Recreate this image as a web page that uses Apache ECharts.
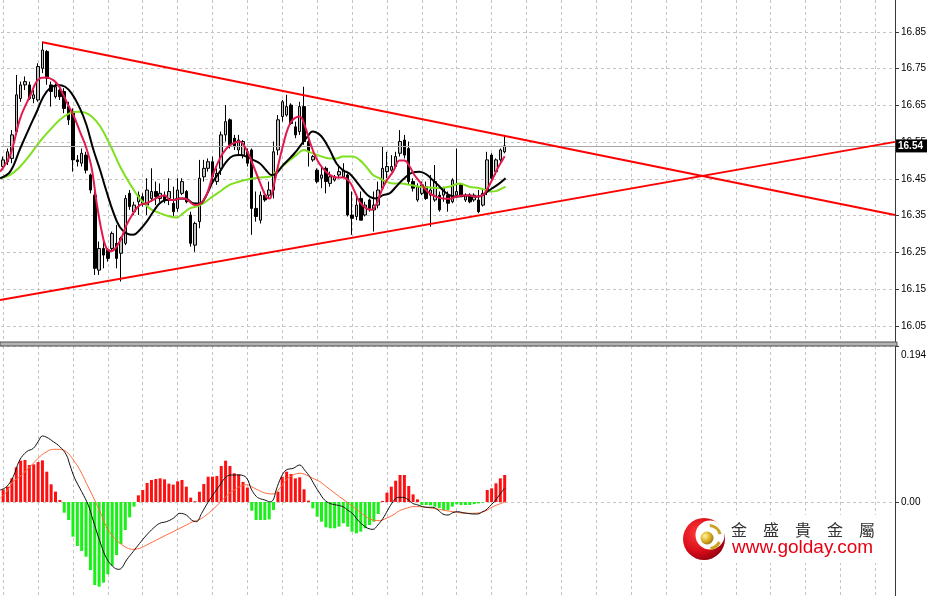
<!DOCTYPE html>
<html>
<head>
<meta charset="utf-8">
<script src="https://cdn.jsdelivr.net/npm/echarts@6/dist/echarts.min.js"></script>
<style>html,body{margin:0;padding:0;background:#fff}#c{width:929px;height:596px}</style>
</head>
<body>
<div id="c"></div>
<script>
// ---- data ----
const SLOT_COUNT = 205;               // bar slots across the chart (incl. empty right side)
const priceTicks = [16.05, 16.15, 16.25, 16.35, 16.45, 16.55, 16.65, 16.75, 16.85];
const macdTicks = [0, 0.194];
const macdTickLabels = ['0.00', '0.194'];
const timeGridBars = [0, 8, 16, 24, 32, 40, 48, 56, 64, 72, 80, 88, 96, 104, 112, 120, 128, 136, 144, 152, 160, 168, 176, 184, 192, 200];
const lastPrice = 16.54;

// candles: [open, close, low, high]
const candles = [
[16.484,16.502,16.474,16.511],[16.497,16.524,16.488,16.533],[16.506,16.570,16.493,16.583],[16.579,16.679,16.570,16.733],
[16.669,16.706,16.660,16.715],[16.706,16.715,16.692,16.729],[16.706,16.669,16.665,16.715],[16.669,16.679,16.656,16.692],
[16.665,16.756,16.660,16.765],[16.751,16.801,16.738,16.824],[16.797,16.724,16.706,16.801],[16.706,16.688,16.647,16.715],
[16.674,16.701,16.669,16.710],[16.692,16.674,16.665,16.697],[16.688,16.642,16.629,16.697],[16.647,16.611,16.597,16.660],
[16.633,16.502,16.470,16.642],[16.502,16.497,16.484,16.515],[16.493,16.520,16.484,16.533],[16.515,16.474,16.465,16.524],
[16.461,16.420,16.411,16.465],[16.406,16.207,16.189,16.416],[16.202,16.261,16.189,16.280],[16.261,16.243,16.207,16.280],
[16.257,16.234,16.225,16.261],[16.261,16.302,16.252,16.307],[16.275,16.234,16.207,16.325],[16.248,16.289,16.171,16.293],
[16.275,16.397,16.270,16.406],[16.411,16.375,16.366,16.420],[16.361,16.379,16.352,16.388],[16.388,16.406,16.352,16.416],
[16.402,16.384,16.375,16.411],[16.379,16.420,16.352,16.452],[16.397,16.416,16.388,16.479],[16.416,16.402,16.379,16.443],
[16.397,16.411,16.388,16.438],[16.406,16.393,16.384,16.416],[16.397,16.416,16.379,16.452],[16.384,16.361,16.348,16.429],
[16.370,16.420,16.361,16.452],[16.411,16.443,16.406,16.452],[16.416,16.388,16.384,16.420],[16.352,16.275,16.266,16.361],
[16.270,16.329,16.252,16.334],[16.334,16.452,16.316,16.502],[16.456,16.479,16.443,16.502],[16.479,16.497,16.470,16.506],
[16.497,16.456,16.443,16.511],[16.443,16.465,16.434,16.479],[16.479,16.570,16.461,16.579],[16.570,16.606,16.552,16.651],
[16.611,16.543,16.533,16.615],[16.561,16.538,16.529,16.570],[16.529,16.556,16.515,16.570],[16.515,16.552,16.506,16.556],
[16.524,16.493,16.484,16.533],[16.529,16.370,16.298,16.533],[16.370,16.348,16.334,16.416],[16.338,16.406,16.329,16.416],
[16.406,16.393,16.388,16.416],[16.406,16.420,16.397,16.443],[16.420,16.524,16.397,16.552],[16.529,16.611,16.515,16.624],
[16.620,16.660,16.606,16.665],[16.624,16.647,16.620,16.679],[16.651,16.601,16.597,16.656],[16.592,16.570,16.561,16.606],
[16.579,16.647,16.570,16.660],[16.647,16.552,16.543,16.701],[16.552,16.524,16.484,16.570],[16.502,16.511,16.497,16.515],
[16.474,16.443,16.438,16.479],[16.452,16.461,16.425,16.484],[16.479,16.443,16.411,16.484],[16.438,16.456,16.429,16.470],
[16.447,16.456,16.443,16.461],[16.461,16.470,16.452,16.484],[16.456,16.474,16.456,16.493],[16.461,16.352,16.348,16.465],
[16.352,16.343,16.298,16.416],[16.348,16.379,16.338,16.406],[16.397,16.338,16.338,16.416],[16.352,16.379,16.348,16.388],
[16.393,16.370,16.361,16.397],[16.366,16.379,16.307,16.416],[16.379,16.420,16.370,16.443],[16.425,16.479,16.420,16.538],
[16.470,16.484,16.452,16.524],[16.474,16.484,16.470,16.515],[16.484,16.511,16.479,16.524],[16.520,16.552,16.511,16.583],
[16.556,16.515,16.506,16.570],[16.533,16.443,16.434,16.552],[16.443,16.425,16.416,16.452],[16.393,16.429,16.388,16.438],
[16.411,16.434,16.406,16.443],[16.429,16.397,16.393,16.443],[16.406,16.420,16.320,16.461],[16.393,16.443,16.388,16.488],
[16.406,16.366,16.361,16.416],[16.406,16.425,16.388,16.429],[16.406,16.384,16.361,16.416],[16.388,16.447,16.384,16.452],
[16.406,16.416,16.402,16.533],[16.434,16.406,16.406,16.438],[16.393,16.406,16.388,16.411],[16.406,16.388,16.384,16.411],
[16.393,16.406,16.388,16.411],[16.393,16.361,16.357,16.420],[16.379,16.411,16.375,16.425],[16.416,16.502,16.406,16.524],
[16.515,16.452,16.443,16.520],[16.470,16.502,16.461,16.506],[16.502,16.529,16.497,16.533],[16.524,16.540,16.520,16.570]
];

// moving averages: [bar index, price]
const maFast = [[-0.7,16.470],[1.6,16.515],[3.9,16.615],[6.1,16.674],[8.4,16.724],[9.9,16.726],[11.5,16.719],[12.6,16.706],[13.8,16.679],[14.9,16.651],[16.1,16.624],[17.6,16.579],[19.1,16.533],[20.3,16.479],[21.4,16.388],[22.6,16.307],[23.7,16.261],[24.8,16.254],[26.0,16.266],[27.1,16.289],[28.3,16.325],[29.8,16.357],[31.3,16.379],[32.9,16.384],[34.4,16.393],[35.9,16.402],[37.1,16.405],[38.2,16.393],[39.3,16.393],[40.5,16.397],[41.6,16.397],[42.8,16.388],[43.9,16.379],[45.1,16.382],[46.6,16.406],[48.1,16.461],[49.7,16.506],[51.2,16.533],[52.7,16.547],[54.2,16.552],[55.8,16.529],[57.3,16.488],[58.8,16.443],[60.3,16.402],[61.1,16.397],[61.9,16.425],[63.0,16.484],[64.2,16.543],[65.3,16.588],[66.4,16.611],[68.0,16.620],[69.1,16.597],[70.3,16.552],[71.8,16.506],[73.3,16.479],[74.9,16.461],[76.4,16.454],[77.9,16.454],[79.4,16.443],[80.6,16.416],[81.7,16.388],[83.3,16.370],[84.4,16.366],[85.5,16.379],[86.7,16.416],[87.8,16.443],[89.4,16.470],[90.9,16.500],[92.0,16.500],[93.2,16.484],[94.3,16.461],[95.5,16.443],[96.6,16.425],[97.8,16.411],[99.3,16.402],[100.8,16.397],[102.3,16.396],[103.9,16.402],[105.4,16.405],[106.9,16.405],[108.4,16.402],[110.0,16.406],[111.1,16.425],[112.3,16.452],[113.4,16.479],[114.5,16.502],[115.0,16.512]];
const maMid = [[-0.7,16.452],[1.6,16.470],[3.9,16.533],[6.1,16.592],[7.7,16.633],[9.2,16.674],[10.7,16.697],[12.6,16.706],[14.2,16.701],[15.7,16.683],[17.6,16.642],[19.1,16.597],[20.6,16.533],[22.2,16.475],[23.7,16.416],[25.2,16.361],[26.7,16.320],[28.3,16.302],[29.8,16.298],[31.3,16.311],[32.9,16.334],[34.4,16.361],[35.9,16.384],[37.4,16.393],[39.0,16.393],[40.5,16.397],[42.0,16.396],[43.5,16.384],[45.1,16.383],[46.6,16.406],[48.1,16.443],[49.7,16.470],[51.2,16.497],[52.7,16.513],[54.2,16.515],[55.8,16.511],[57.3,16.502],[58.8,16.493],[60.3,16.474],[61.5,16.461],[62.6,16.465],[64.2,16.488],[65.7,16.506],[66.8,16.520],[68.0,16.538],[69.5,16.561],[71.0,16.579],[72.2,16.574],[73.3,16.561],[74.9,16.529],[76.4,16.493],[77.9,16.474],[79.4,16.465],[81.0,16.443],[82.5,16.420],[84.0,16.402],[85.5,16.397],[87.1,16.406],[88.6,16.411],[90.1,16.429],[91.8,16.450],[93.9,16.468],[95.5,16.470],[97.0,16.463],[98.5,16.447],[99.7,16.434],[100.8,16.420],[102.3,16.406],[103.9,16.402],[105.4,16.404],[106.9,16.405],[108.4,16.402],[110.0,16.406],[111.1,16.416],[112.3,16.426],[113.8,16.438],[115.2,16.452]];
const maSlow = [[-0.7,16.452],[1.6,16.461],[3.9,16.484],[6.1,16.515],[8.4,16.552],[10.7,16.583],[13.0,16.611],[15.3,16.629],[17.2,16.633],[18.7,16.631],[20.3,16.620],[22.2,16.594],[24.5,16.543],[26.8,16.484],[29.0,16.438],[31.3,16.397],[33.6,16.370],[35.9,16.357],[38.2,16.348],[39.7,16.345],[41.3,16.357],[42.8,16.370],[44.3,16.375],[46.0,16.384],[47.4,16.397],[49.7,16.416],[51.9,16.434],[54.2,16.443],[56.5,16.450],[58.8,16.454],[61.1,16.456],[62.6,16.470],[64.9,16.493],[67.2,16.515],[68.9,16.529],[70.3,16.523],[72.6,16.513],[74.9,16.506],[76.4,16.506],[77.9,16.511],[80.2,16.511],[81.7,16.502],[83.2,16.484],[84.8,16.461],[86.3,16.452],[87.8,16.443],[89.4,16.438],[91.4,16.438],[93.2,16.434],[95.5,16.429],[97.8,16.427],[100.0,16.425],[102.3,16.429],[104.6,16.438],[106.9,16.429],[109.2,16.425],[110.7,16.420],[111.9,16.416],[113.0,16.417],[114.2,16.423],[115.2,16.429]];

// trend lines: [bar index, price] end points
const trendUpper = [[9, 16.822], [204.5, 16.352]];
const trendLower = [[-0.73, 16.121], [204.5, 16.551]];

// MACD histogram (one value per bar)
const macdHist = [
0.0157,0.0191,0.0295,0.0431,0.0514,0.0522,0.0460,0.0468,0.0497,0.0518,0.0377,0.0220,0.0129,0.0025,
-0.0133,-0.0224,-0.0431,-0.0547,-0.0609,-0.0680,-0.0846,-0.1032,-0.1053,-0.1003,-0.0899,-0.0792,-0.0659,-0.0522,-0.0348,-0.0191,-0.0058,
0.0083,0.0149,0.0236,0.0274,0.0286,0.0294,0.0282,0.0228,0.0216,0.0257,0.0274,0.0191,0.0054,0.0010,
0.0128,0.0224,0.0315,0.0315,0.0323,0.0448,0.0514,0.0448,0.0357,0.0344,0.0250,0.0180,
-0.0108,-0.0224,-0.0224,-0.0224,-0.0216,-0.0100,
0.0128,0.0315,0.0377,0.0348,0.0294,0.0307,0.0158,0.0017,
-0.0079,-0.0182,-0.0245,-0.0315,-0.0327,-0.0327,-0.0307,-0.0265,-0.0307,-0.0369,-0.0390,-0.0369,-0.0327,-0.0286,-0.0245,-0.0149,
0.0013,0.0116,0.0191,0.0265,0.0336,0.0336,0.0199,0.0095,0.0033,
-0.0037,-0.0037,-0.0041,-0.0058,-0.0075,-0.0100,-0.0100,-0.0058,-0.0029,-0.0037,-0.0037,-0.0037,-0.0025,-0.0017,-0.0008,
0.0149,0.0170,0.0232,0.0294,0.0336
];
const macdMain = [[-0.7,0.0149],[0.8,0.0191],[2.3,0.0315],[3.8,0.0522],[5.4,0.0626],[6.9,0.0667],[8.0,0.0750],[9.0,0.0821],[10.0,0.0804],[11.5,0.0750],[13.0,0.0688],[14.5,0.0585],[15.3,0.0460],[16.4,0.0295],[18.0,0.0129],[19.5,-0.0037],[20.6,-0.0224],[22.2,-0.0493],[23.7,-0.0700],[25.2,-0.0804],[26.4,-0.0837],[27.1,-0.0825],[28.3,-0.0721],[29.8,-0.0617],[31.3,-0.0514],[32.9,-0.0410],[34.4,-0.0327],[35.9,-0.0265],[37.4,-0.0245],[39.0,-0.0203],[40.5,-0.0141],[42.0,-0.0162],[43.2,-0.0224],[44.3,-0.0245],[45.5,-0.0141],[46.6,-0.0037],[48.1,0.0087],[49.7,0.0211],[51.2,0.0315],[52.7,0.0336],[54.2,0.0336],[55.8,0.0300],[56.9,0.0160],[58.1,0.0066],[59.0,0.0040],[60.0,0.0025],[61.1,0.0004],[61.9,0.0025],[62.6,0.0149],[63.8,0.0315],[64.9,0.0398],[66.5,0.0419],[68.0,0.0460],[69.1,0.0398],[70.3,0.0315],[71.4,0.0211],[72.6,0.0108],[73.7,0.0025],[74.9,-0.0017],[76.4,-0.0037],[77.9,-0.0058],[79.0,-0.0100],[80.2,-0.0149],[81.3,-0.0224],[82.5,-0.0286],[83.6,-0.0327],[84.8,-0.0340],[85.9,-0.0286],[87.1,-0.0203],[88.2,-0.0100],[89.4,0.0004],[90.5,0.0058],[91.6,0.0058],[92.8,0.0033],[93.9,-0.0017],[95.1,-0.0037],[96.2,-0.0058],[97.4,-0.0066],[98.5,-0.0066],[99.7,-0.0100],[100.8,-0.0149],[102.0,-0.0162],[103.1,-0.0133],[104.2,-0.0120],[105.4,-0.0133],[106.5,-0.0141],[107.7,-0.0149],[108.8,-0.0149],[110.0,-0.0120],[110.7,-0.0100],[111.5,-0.0058],[112.6,0.0004],[113.8,0.0087],[114.9,0.0170]];
const macdSignal = [[-0.7,0.0045],[0.8,0.0129],[2.3,0.0253],[3.8,0.0315],[5.4,0.0398],[6.9,0.0481],[8.4,0.0564],[10.0,0.0626],[11.5,0.0655],[13.0,0.0655],[14.5,0.0626],[16.1,0.0522],[17.6,0.0398],[19.1,0.0232],[20.6,0.0066],[22.2,-0.0120],[23.7,-0.0307],[25.2,-0.0431],[26.8,-0.0514],[28.3,-0.0568],[29.8,-0.0589],[31.3,-0.0576],[32.9,-0.0535],[34.4,-0.0493],[35.9,-0.0452],[37.4,-0.0410],[39.0,-0.0369],[40.5,-0.0327],[42.0,-0.0286],[43.5,-0.0245],[45.1,-0.0215],[46.6,-0.0162],[48.1,-0.0091],[49.7,-0.0008],[51.2,0.0075],[52.7,0.0141],[54.2,0.0191],[55.8,0.0215],[57.3,0.0180],[58.8,0.0140],[60.3,0.0108],[61.9,0.0100],[63.4,0.0170],[64.9,0.0274],[66.5,0.0336],[68.0,0.0357],[69.5,0.0336],[71.0,0.0294],[72.6,0.0253],[74.1,0.0191],[75.6,0.0128],[77.1,0.0066],[78.7,0.0004],[80.2,-0.0058],[81.7,-0.0120],[83.2,-0.0182],[84.8,-0.0224],[86.3,-0.0232],[87.8,-0.0203],[89.4,-0.0162],[90.9,-0.0108],[92.4,-0.0079],[93.9,-0.0058],[95.5,-0.0058],[97.0,-0.0066],[98.5,-0.0079],[100.0,-0.0091],[101.6,-0.0108],[103.1,-0.0120],[104.6,-0.0133],[106.2,-0.0141],[107.7,-0.0141],[109.2,-0.0133],[110.7,-0.0108],[112.3,-0.0058],[113.8,-0.0025],[115.3,0.0004]];

// ---- chart ----
const slots = [];
for (let i = 0; i < SLOT_COUNT; i++) slots.push(String(i));

const GRID_COLOR = '#c4c4c4';
const LABEL_FONT = 'Liberation Sans';
const gridLineStyle = { color: GRID_COLOR, type: [3, 3], width: 1 };

function valueXAxis(gridIndex) {
  return {
    type: 'value', gridIndex, min: -0.5, max: SLOT_COUNT - 0.5,
    axisLine: { show: false, onZero: false }, axisLabel: { show: false },
    axisTick: { show: false, customValues: timeGridBars },
    splitLine: { show: true, lineStyle: gridLineStyle }
  };
}

const chart = echarts.init(document.getElementById('c'), null, { renderer: 'canvas' });
chart.setOption({
  animation: false,
  backgroundColor: '#ffffff',
  grid: [
    { left: 1, top: 0, width: 895, height: 342 },
    { left: 1, top: 346, width: 895, height: 250 }
  ],
  xAxis: [
    { type: 'category', gridIndex: 0, data: slots, show: false },
    valueXAxis(0),
    { type: 'category', gridIndex: 1, data: slots, show: false },
    valueXAxis(1)
  ],
  yAxis: [
    {
      type: 'value', gridIndex: 0, position: 'right', min: 16.0065, max: 16.937,
      axisLine: { show: true, onZero: false, lineStyle: { color: '#3a3a3a', width: 1 } },
      axisTick: { show: true, length: 4, customValues: priceTicks, lineStyle: { color: '#3a3a3a' } },
      axisLabel: { show: true, customValues: priceTicks, formatter: v => v.toFixed(2),
        color: '#000', fontFamily: LABEL_FONT, fontSize: 10, margin: 6 },
      splitLine: { show: true, lineStyle: gridLineStyle }
    },
    {
      type: 'value', gridIndex: 1, position: 'right', min: -0.1169, max: 0.194,
      axisLine: { show: true, onZero: false, lineStyle: { color: '#3a3a3a', width: 1 } },
      axisTick: { show: true, length: 4, customValues: macdTicks, lineStyle: { color: '#3a3a3a' } },
      axisLabel: { show: true, customValues: macdTicks,
        formatter: v => {
          const k = macdTicks.indexOf(v);
          const s = macdTickLabels[k >= 0 ? k : 0];
          return k === 1 ? '{top|' + s + '}' : s;
        },
        color: '#000', fontFamily: LABEL_FONT, fontSize: 10, margin: 6,
        rich: { top: { padding: [18, 0, 0, 0], color: '#000', fontFamily: LABEL_FONT, fontSize: 10 } } },
      splitLine: { show: true, lineStyle: gridLineStyle }
    }
  ],
  series: [
    {
      type: 'candlestick', xAxisIndex: 0, yAxisIndex: 0, data: candles, barWidth: 3, z: 3,
      itemStyle: { color: '#c4c4c4', color0: '#000000', borderColor: '#000000', borderColor0: '#000000', borderWidth: 1 },
      markLine: {
        silent: true, symbol: ['none', 'none'], animation: false,
        lineStyle: { color: '#a8a8a8', width: 1, type: 'solid' },
        label: { show: true, position: 'end', distance: 1, formatter: () => lastPrice.toFixed(2),
          color: '#ffffff', backgroundColor: '#000000', fontFamily: LABEL_FONT, fontSize: 10, fontWeight: 'bold',
          padding: [2, 4, 1, 2] },
        data: [{ yAxis: lastPrice }]
      }
    },
    { type: 'line', xAxisIndex: 1, yAxisIndex: 0, data: maSlow, smooth: 0.4, showSymbol: false, z: 4,
      lineStyle: { color: '#7ee01e', width: 2 } },
    { type: 'line', xAxisIndex: 1, yAxisIndex: 0, data: maMid, smooth: 0.4, showSymbol: false, z: 5,
      lineStyle: { color: '#000000', width: 2 } },
    { type: 'line', xAxisIndex: 1, yAxisIndex: 0, data: maFast, smooth: 0.4, showSymbol: false, z: 6,
      lineStyle: { color: '#e2184e', width: 2 } },
    { type: 'line', xAxisIndex: 1, yAxisIndex: 0, data: trendUpper, showSymbol: false, z: 8,
      lineStyle: { color: '#ff0000', width: 2 } },
    { type: 'line', xAxisIndex: 1, yAxisIndex: 0, data: trendLower, showSymbol: false, z: 8,
      lineStyle: { color: '#ff0000', width: 2 } },
    { type: 'bar', xAxisIndex: 2, yAxisIndex: 1, data: macdHist, barWidth: 3, z: 3,
      itemStyle: { color: p => p.value >= 0 ? '#ff1010' : '#18f018' } },
    { type: 'line', xAxisIndex: 3, yAxisIndex: 1, data: macdSignal, smooth: 0.4, showSymbol: false, z: 5,
      lineStyle: { color: '#ff6a3a', width: 1 } },
    { type: 'line', xAxisIndex: 3, yAxisIndex: 1, data: macdMain, smooth: 0.4, showSymbol: false, z: 6,
      lineStyle: { color: '#111111', width: 1 } }
  ],
  graphic: [
    { type: 'rect', z: 100, shape: { x: 0, y: 342, width: 897, height: 4 },
      style: { fill: '#b4b4b4', stroke: '#505050', lineWidth: 1 } },
    { type: 'rect', z: 100, shape: { x: 679, y: 515, width: 202, height: 48 }, style: { fill: '#ffffff' } },
    { type: 'circle', z: 101, shape: { cx: 704, cy: 539, r: 21 },
      style: { fill: new echarts.graphic.RadialGradient(0.35, 0.35, 0.75,
        [{ offset: 0, color: '#ff3a3a' }, { offset: 0.6, color: '#d80c18' }, { offset: 1, color: '#8a0010' }]) } },
    { type: 'circle', z: 102, shape: { cx: 710, cy: 535, r: 14.5 }, style: { fill: '#ffffff' } },
    { type: 'arc', z: 103, shape: { cx: 709, cy: 537, r: 11.5, startAngle: -1.5, endAngle: -0.25 },
      style: { stroke: '#c9a227', lineWidth: 3, fill: null } },
    { type: 'arc', z: 103, shape: { cx: 709, cy: 537, r: 11.5, startAngle: 0.45, endAngle: 1.45 },
      style: { stroke: '#c9a227', lineWidth: 3, fill: null } },
    { type: 'circle', z: 103, shape: { cx: 707, cy: 538, r: 6.5 },
      style: { fill: new echarts.graphic.RadialGradient(0.35, 0.35, 0.7,
        [{ offset: 0, color: '#fff2a0' }, { offset: 0.5, color: '#e0b830' }, { offset: 1, color: '#a07810' }]) } },
    { type: 'text', z: 103, x: 731, y: 530,
      style: { text: '金　盛　貴　金　屬', fill: '#333333', font: '16px "Noto Sans CJK TC"', verticalAlign: 'middle', align: 'left' } },
    { type: 'text', z: 103, x: 732, y: 548,
      style: { text: 'www.golday.com', fill: '#e60012', font: '19px "Liberation Sans"', verticalAlign: 'middle', align: 'left' } }
  ]
});
</script>
</body>
</html>
